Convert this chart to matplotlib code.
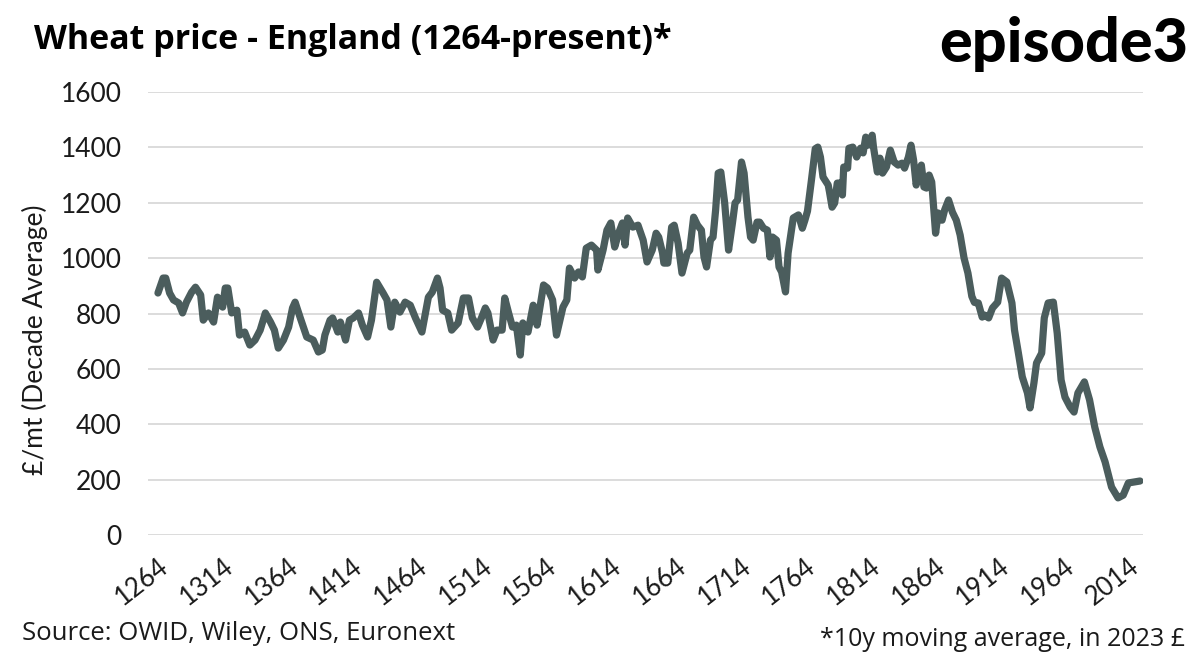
import matplotlib.pyplot as plt
from matplotlib.transforms import ScaledTranslation

plt.rcParams['font.family'] = ['Lato', 'DejaVu Sans']

# 10y moving average wheat price, £/mt (2023 £)
years = [
    1264, 1268, 1270, 1273, 1276, 1280, 1283, 1286, 1290, 1293, 1297, 1299, 1303, 1307, 1310, 1314,
    1316, 1318, 1321, 1325, 1327, 1331, 1335, 1339, 1343, 1347, 1351, 1354, 1357, 1361, 1365, 1368,
    1370, 1374, 1379, 1384, 1388,
    1391, 1393, 1397, 1399, 1403, 1405, 1409, 1412, 1415, 1419, 1422, 1426, 1429, 1433, 1438, 1441,
    1444, 1447, 1451, 1455, 1459, 1463, 1468, 1473, 1476, 1480, 1482, 1484, 1488, 1491, 1496, 1500,
    1504, 1507, 1511, 1514, 1517,
    1519, 1523, 1526, 1530, 1532, 1535, 1538, 1541, 1544, 1546, 1550, 1554, 1557, 1562, 1565, 1569,
    1572, 1577, 1580, 1582, 1586, 1589, 1592, 1595, 1599, 1603, 1604, 1608, 1611, 1614, 1617, 1620,
    1623, 1625, 1627, 1631, 1635, 1639, 1642,
    1646, 1649, 1651, 1654, 1655, 1658, 1661, 1663, 1666, 1669, 1673, 1675, 1678, 1681, 1684, 1686,
    1688, 1691, 1693, 1695, 1697, 1699, 1702, 1705, 1708, 1710, 1712, 1715, 1717, 1720, 1722, 1724,
    1727, 1729, 1732, 1735, 1737, 1739, 1742, 1744, 1746, 1749, 1751, 1755, 1759, 1762, 1764, 1766,
    1769, 1772, 1774,
    1776, 1778, 1782, 1783, 1785, 1787, 1789, 1791, 1793, 1794, 1797, 1798, 1801, 1804, 1807, 1809,
    1811, 1813, 1816, 1817, 1820, 1822, 1824, 1827, 1830, 1833, 1836, 1839, 1841, 1844, 1846, 1848,
    1850, 1852, 1854, 1856, 1858, 1860, 1862, 1865, 1867, 1870, 1872, 1875, 1878, 1881, 1884, 1887,
    1890, 1893, 1895,
    1898, 1901, 1903, 1906, 1909, 1913, 1916, 1920, 1924, 1926, 1929, 1932, 1936, 1938, 1941, 1943,
    1947, 1949, 1952, 1956, 1959, 1962, 1965, 1969, 1972, 1975, 1980, 1984, 1988, 1992, 1996, 2001,
    2006, 2010, 2014, 2018, 2023,
]
price = [
    874, 928, 928, 874, 849, 838, 802, 841, 877, 895, 867, 776, 802, 769, 859, 823,
    892, 892, 802, 812, 722, 733, 686, 704, 740, 802, 769, 740, 675, 704, 751, 820,
    841, 784, 715, 704, 661,
    668, 722, 776, 784, 733, 769, 704, 776, 784, 802, 758, 715, 776, 913, 874, 849,
    751, 841, 805, 841, 830, 784, 733, 859, 877, 928, 892, 812, 802, 740, 766, 856,
    856, 784, 751, 784, 820,
    802, 704, 740, 740, 856, 802, 751, 758, 650, 766, 733, 830, 758, 903, 892, 849,
    722, 823, 849, 964, 928, 950, 932, 1036, 1047, 1029, 957, 1029, 1101, 1127, 1040, 1090,
    1127, 1047, 1145, 1112, 1119, 1065, 986,
    1029, 1090, 1076, 1018, 982, 982, 1112, 1119, 1054, 946, 1018, 1029, 1148, 1119, 1101, 1004,
    968, 1065, 1076, 1174, 1307, 1311, 1199, 1029, 1127, 1199, 1210, 1347, 1307, 1148, 1076, 1065,
    1130, 1130, 1108, 1101, 1004, 1076, 1065, 968, 950, 878, 1018, 1145, 1156, 1108, 1137, 1170,
    1280, 1395, 1401,
    1365, 1293, 1264, 1239, 1184, 1199, 1271, 1271, 1228, 1329, 1325, 1397, 1401, 1365, 1397, 1380,
    1437, 1408, 1444, 1401, 1311, 1361, 1307, 1329, 1390, 1347, 1336, 1343, 1325, 1365, 1408, 1354,
    1264, 1307, 1336, 1257, 1253, 1300, 1275, 1090, 1163, 1137, 1174, 1210, 1166, 1137, 1083, 1000,
    946, 862, 840,
    838, 787, 794, 784, 820, 841, 928, 914, 838, 740, 657, 571, 513, 459, 549, 621,
    657, 784, 838, 841, 729, 560, 498, 462, 444, 513, 553, 488, 390, 318, 264, 173,
    134, 144, 188, 191, 195,
]

tick_years = list(range(1264, 2015, 50))
y_ticks = [0, 200, 400, 600, 800, 1000, 1200, 1400, 1600]

line_color = '#4b5d5d'
text_color = '#1a1a1a'

fig = plt.figure(figsize=(12, 6.63), dpi=100)
ax = fig.add_axes([148 / 1200, 1 - 535 / 663, 995 / 1200, 443 / 663])

ax.plot(years, price, color=line_color, linewidth=5.2, solid_joinstyle='round',
        solid_capstyle='round', zorder=3)

ax.set_xlim(1256.3, 2025.3)
ax.set_ylim(0, 1600)
ax.set_yticks(y_ticks)
ax.set_xticks(tick_years)
ax.set_xticklabels([str(t) for t in tick_years], rotation=38, ha='right',
                   rotation_mode='anchor')
shift = ScaledTranslation(-6 / 100, 0, fig.dpi_scale_trans)
for lbl in ax.get_xticklabels():
    lbl.set_transform(lbl.get_transform() + shift)
ax.grid(axis='y', color='#d9d9d9', linewidth=1.3, zorder=0)
for s in ax.spines.values():
    s.set_visible(False)
ax.tick_params(axis='y', length=0, pad=19, labelsize=19, labelcolor=text_color)
ax.tick_params(axis='x', length=0, pad=13, labelsize=18.5, labelcolor=text_color)

fig.text(35 / 1200, 1 - 340 / 663, '£/mt (Decade Average)', rotation=90,
         ha='center', va='center', fontsize=19, color=text_color)

fig.text(34 / 1200, 1 - 40 / 663, 'Wheat price - England (1264-present)*',
         fontsize=24.5, fontweight='bold', color='black', va='center', ha='left',
         family=['Open Sans', 'DejaVu Sans'])
fig.text(1188 / 1200, 1 - 44 / 663, 'episode3', fontsize=44, fontweight='black',
         color='black', va='center', ha='right')

fig.text(22 / 1200, 1 - 634 / 663, 'Source: OWID, Wiley, ONS, Euronext',
         fontsize=18.5, color=text_color, va='center', ha='left',
         family=['Open Sans', 'DejaVu Sans'])
fig.text(1185 / 1200, 1 - 640 / 663, '*10y moving average, in 2023 £',
         fontsize=18, color=text_color, va='center', ha='right',
         family=['Open Sans', 'DejaVu Sans'])

fig.savefig('out.png', dpi=100)
